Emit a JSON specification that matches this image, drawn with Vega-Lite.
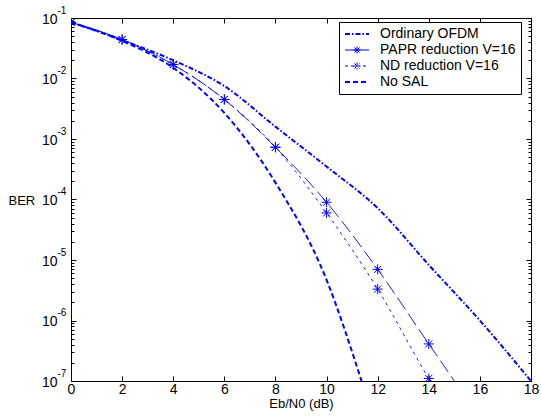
{
  "$schema": "https://vega.github.io/schema/vega-lite/v6.json",
  "width": 460,
  "height": 363,
  "autosize": {"type": "none"},
  "padding": {"left": 71, "top": 18, "right": 10, "bottom": 39},
  "background": "white",
  "config": {
    "view": {"stroke": "black", "strokeWidth": 1},
    "font": "Liberation Sans, DejaVu Sans, sans-serif",
    "axis": {"grid": false, "domain": false, "tickColor": "black", "labelColor": "black", "titleColor": "black", "labelFontSize": 14, "titleFontSize": 13, "titleFontWeight": "normal", "labelOverlap": false, "labelFlush": false}
  },
  "datasets": {
    "ber": [
      {"series": "Ordinary OFDM", "snr": 0, "ber": 0.085},
      {"series": "Ordinary OFDM", "snr": 2, "ber": 0.043},
      {"series": "Ordinary OFDM", "snr": 4, "ber": 0.020},
      {"series": "Ordinary OFDM", "snr": 6, "ber": 0.0075},
      {"series": "Ordinary OFDM", "snr": 8, "ber": 0.0016},
      {"series": "Ordinary OFDM", "snr": 10, "ber": 0.00035},
      {"series": "Ordinary OFDM", "snr": 12, "ber": 0.000072},
      {"series": "Ordinary OFDM", "snr": 14, "ber": 0.0000083},
      {"series": "Ordinary OFDM", "snr": 16, "ber": 0.000001},
      {"series": "Ordinary OFDM", "snr": 18, "ber": 0.0000001},
      {"series": "PAPR reduction V=16", "snr": 0, "ber": 0.085},
      {"series": "PAPR reduction V=16", "snr": 2, "ber": 0.044},
      {"series": "PAPR reduction V=16", "snr": 4, "ber": 0.017},
      {"series": "PAPR reduction V=16", "snr": 6, "ber": 0.0045},
      {"series": "PAPR reduction V=16", "snr": 8, "ber": 0.00073},
      {"series": "PAPR reduction V=16", "snr": 10, "ber": 0.00009},
      {"series": "PAPR reduction V=16", "snr": 12, "ber": 0.000007},
      {"series": "PAPR reduction V=16", "snr": 14, "ber": 0.00000041},
      {"series": "PAPR reduction V=16", "snr": 15, "ber": 0.0000001},
      {"series": "ND reduction V=16", "snr": 0, "ber": 0.085},
      {"series": "ND reduction V=16", "snr": 2, "ber": 0.044},
      {"series": "ND reduction V=16", "snr": 4, "ber": 0.017},
      {"series": "ND reduction V=16", "snr": 6, "ber": 0.0045},
      {"series": "ND reduction V=16", "snr": 8, "ber": 0.00073},
      {"series": "ND reduction V=16", "snr": 10, "ber": 0.00006},
      {"series": "ND reduction V=16", "snr": 12, "ber": 0.0000033},
      {"series": "ND reduction V=16", "snr": 14, "ber": 0.00000011},
      {"series": "ND reduction V=16", "snr": 14.06, "ber": 0.0000001},
      {"series": "No SAL", "snr": 0, "ber": 0.085},
      {"series": "No SAL", "snr": 2, "ber": 0.042},
      {"series": "No SAL", "snr": 4, "ber": 0.015},
      {"series": "No SAL", "snr": 6, "ber": 0.0027},
      {"series": "No SAL", "snr": 8, "ber": 0.00019},
      {"series": "No SAL", "snr": 10, "ber": 0.0000047},
      {"series": "No SAL", "snr": 11.37, "ber": 0.0000001}
    ]
  },
  "data": {"name": "ber"},
  "resolve": {"axis": {"x": "independent", "y": "independent"}},
  "layer": [
    {
      "transform": [{"filter": "datum.series == 'Ordinary OFDM'"}],
      "mark": {"type": "line", "strokeWidth": 2, "strokeDash": [5, 2, 1.5, 2], "interpolate": "monotone", "clip": true},
      "encoding": {
        "x": {"field": "snr", "type": "quantitative", "scale": {"domain": [0, 18], "nice": false},
          "axis": {"orient": "bottom", "values": [0, 2, 4, 6, 8, 10, 12, 14, 16, 18], "tickSize": -5, "labelPadding": 6, "title": "Eb/N0 (dB)", "titlePadding": 1}},
        "y": {"field": "ber", "type": "quantitative", "scale": {"type": "log", "domain": [1e-7, 0.1], "nice": false},
          "axis": {"orient": "left", "values": [1e-7, 1e-6, 1e-5, 1e-4, 1e-3, 1e-2, 1e-1], "tickSize": -5, "labelPadding": 19, "labelExpr": "'10'", "labelAlign": "right", "labelBaseline": "middle", "labelOffset": 1,
            "title": "BER", "titleAngle": 0, "titleAlign": "left", "titleBaseline": "middle", "titleX": -63, "titleY": 182, "titleFontSize": 13}},
        "color": {"field": "series", "type": "nominal",
          "scale": {"domain": ["Ordinary OFDM", "PAPR reduction V=16", "ND reduction V=16", "No SAL"], "range": ["#0000ff", "#0000ff", "#0000ff", "#0000ff"]},
          "legend": {"title": null, "orient": "none", "legendX": 268, "legendY": 4, "strokeColor": "black", "fillColor": "white", "padding": 5, "symbolSize": 144, "symbolOffset": 6, "labelOffset": 16, "rowPadding": 2, "labelFontSize": 14, "labelColor": "black", "labelFont": "Liberation Sans, DejaVu Sans, sans-serif", "cornerRadius": 0,
            "encode": {"symbols": {"update": {
              "shape": {"signal": "(datum.label == 'PAPR reduction V=16' || datum.label == 'ND reduction V=16') ? 'M-2,0L2,0M-0.6,0L0.6,0M0,-0.6L0,0.6M-0.42,-0.42L0.42,0.42M-0.42,0.42L0.42,-0.42' : 'M-2,0L2,0'"},
              "strokeDash": {"signal": "datum.label == 'Ordinary OFDM' ? [5, 2, 1.5, 2] : datum.label == 'No SAL' ? [5, 3] : datum.label == 'ND reduction V=16' ? [3, 3] : [30, 0]"},
              "strokeWidth": {"signal": "(datum.label == 'Ordinary OFDM' || datum.label == 'No SAL') ? 2 : 1"},
              "fill": {"value": "transparent"},
              "stroke": {"value": "#0000ff"}
            }}}}
        }
      }
    },
    {
      "transform": [{"filter": "datum.series == 'PAPR reduction V=16'"}],
      "mark": {"type": "line", "strokeWidth": 0.9, "strokeDash": [14, 5], "interpolate": "monotone", "clip": true},
      "encoding": {
        "x": {"field": "snr", "type": "quantitative", "scale": {"domain": [0, 18], "nice": false},
          "axis": {"orient": "top", "values": [0, 2, 4, 6, 8, 10, 12, 14, 16, 18], "tickSize": -5, "labels": false, "title": null}},
        "y": {"field": "ber", "type": "quantitative", "scale": {"type": "log", "domain": [1e-7, 0.1], "nice": false},
          "axis": {"orient": "left", "values": [1e-7, 1e-6, 1e-5, 1e-4, 1e-3, 1e-2, 1e-1], "ticks": false, "labelPadding": 14, "labelExpr": "'-' + round(-log(datum.value) / LN10)", "labelAlign": "left", "labelBaseline": "middle", "labelOffset": -8, "labelFontSize": 10, "title": null}},
        "color": {"field": "series", "type": "nominal",
          "scale": {"domain": ["Ordinary OFDM", "PAPR reduction V=16", "ND reduction V=16", "No SAL"], "range": ["#0000ff", "#0000ff", "#0000ff", "#0000ff"]}}
      }
    },
    {
      "transform": [{"filter": "datum.series == 'ND reduction V=16'"}],
      "mark": {"type": "line", "strokeWidth": 0.9, "strokeDash": [3, 4], "interpolate": "monotone", "clip": true},
      "encoding": {
        "x": {"field": "snr", "type": "quantitative", "scale": {"domain": [0, 18], "nice": false}, "axis": null},
        "y": {"field": "ber", "type": "quantitative", "scale": {"type": "log", "domain": [1e-7, 0.1], "nice": false},
          "axis": {"orient": "left", "values": [2e-7, 3e-7, 4e-7, 5e-7, 6e-7, 7e-7, 8e-7, 9e-7, 2e-6, 3e-6, 4e-6, 5e-6, 6e-6, 7e-6, 8e-6, 9e-6, 2e-5, 3e-5, 4e-5, 5e-5, 6e-5, 7e-5, 8e-5, 9e-5, 2e-4, 3e-4, 4e-4, 5e-4, 6e-4, 7e-4, 8e-4, 9e-4, 2e-3, 3e-3, 4e-3, 5e-3, 6e-3, 7e-3, 8e-3, 9e-3, 2e-2, 3e-2, 4e-2, 5e-2, 6e-2, 7e-2, 8e-2, 9e-2], "tickSize": -3, "labels": false, "title": null}},
        "color": {"field": "series", "type": "nominal",
          "scale": {"domain": ["Ordinary OFDM", "PAPR reduction V=16", "ND reduction V=16", "No SAL"], "range": ["#0000ff", "#0000ff", "#0000ff", "#0000ff"]}}
      }
    },
    {
      "transform": [{"filter": "datum.series == 'No SAL'"}],
      "mark": {"type": "line", "strokeWidth": 2, "strokeDash": [5, 3], "interpolate": "monotone", "clip": true},
      "encoding": {
        "x": {"field": "snr", "type": "quantitative", "scale": {"domain": [0, 18], "nice": false}, "axis": null},
        "y": {"field": "ber", "type": "quantitative", "scale": {"type": "log", "domain": [1e-7, 0.1], "nice": false},
          "axis": {"orient": "right", "values": [1e-7, 1e-6, 1e-5, 1e-4, 1e-3, 1e-2, 1e-1], "tickSize": -5, "labels": false, "title": null}},
        "color": {"field": "series", "type": "nominal",
          "scale": {"domain": ["Ordinary OFDM", "PAPR reduction V=16", "ND reduction V=16", "No SAL"], "range": ["#0000ff", "#0000ff", "#0000ff", "#0000ff"]}}
      }
    },
    {
      "transform": [{"filter": "(datum.series == 'PAPR reduction V=16' || datum.series == 'ND reduction V=16') && datum.snr % 2 == 0"}],
      "mark": {"type": "point", "shape": "M-1,0L1,0M0,-1L0,1M-0.7,-0.7L0.7,0.7M-0.7,0.7L0.7,-0.7", "filled": false, "stroke": "#0000ff", "strokeWidth": 1, "size": 100, "opacity": 1, "clip": true},
      "encoding": {
        "x": {"field": "snr", "type": "quantitative", "scale": {"domain": [0, 18], "nice": false}, "axis": null},
        "y": {"field": "ber", "type": "quantitative", "scale": {"type": "log", "domain": [1e-7, 0.1], "nice": false},
          "axis": {"orient": "right", "values": [2e-7, 3e-7, 4e-7, 5e-7, 6e-7, 7e-7, 8e-7, 9e-7, 2e-6, 3e-6, 4e-6, 5e-6, 6e-6, 7e-6, 8e-6, 9e-6, 2e-5, 3e-5, 4e-5, 5e-5, 6e-5, 7e-5, 8e-5, 9e-5, 2e-4, 3e-4, 4e-4, 5e-4, 6e-4, 7e-4, 8e-4, 9e-4, 2e-3, 3e-3, 4e-3, 5e-3, 6e-3, 7e-3, 8e-3, 9e-3, 2e-2, 3e-2, 4e-2, 5e-2, 6e-2, 7e-2, 8e-2, 9e-2], "tickSize": -3, "labels": false, "title": null}}
      }
    }
  ]
}
